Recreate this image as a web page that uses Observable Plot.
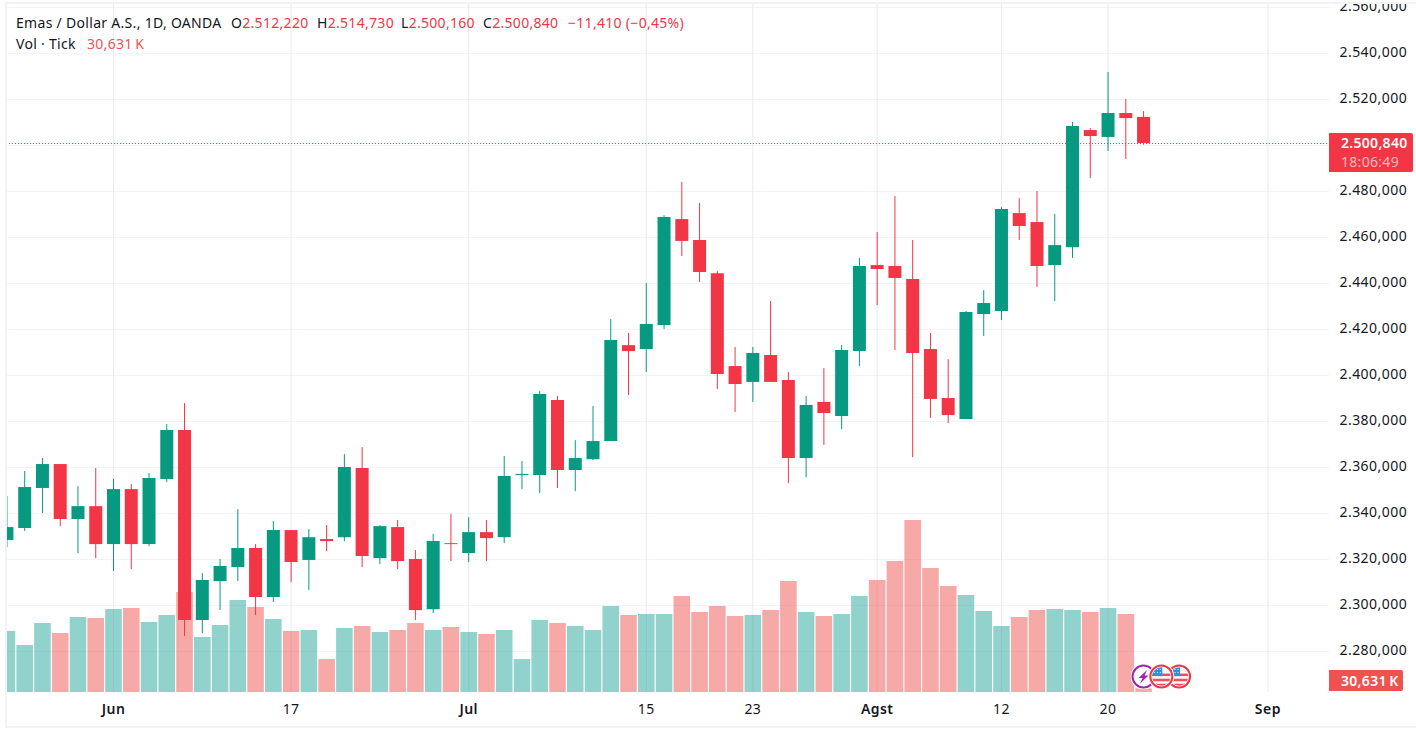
<!DOCTYPE html>
<html lang="id">
<head>
<meta charset="utf-8">
<script src="https://cdn.jsdelivr.net/npm/d3@7"></script>
<script src="https://cdn.jsdelivr.net/npm/@observablehq/plot@0.6"></script>
<style>
  html,body{margin:0;padding:0;background:#fff;width:1416px;height:731px;overflow:hidden;}
  body{position:relative;font-family:"Noto Sans",sans-serif;}
  #chart svg{display:block;clip-path:inset(4px 0 0 0);}
  .frame{position:absolute;background:#f0f3fa;}
  .legend{position:absolute;font-size:14px;line-height:18px;color:#131722;white-space:pre;letter-spacing:.3px;}
  .legend b{font-weight:400;color:#f23645;}
  .legend .vol{color:#ef5350;}
  .tag{position:absolute;color:#fff;font-size:14px;font-weight:600;box-sizing:border-box;letter-spacing:.3px;}
</style>
</head>
<body>
<div id="chart"></div>
<script>
// Trading-day offset relative to 3 June; the first visible candle is six sessions earlier.
const firstSession = -6;
const opens = [2328.3,2333.5,2350.9,2361.3,2337.4,2343.0,2326.5,2350.4,2326.5,2354.8,2376.1,2293.5,2310.4,2316.5,2324.8,2303.5,2332.6,2319.6,2328.7,2329.5,2359.6,2320.4,2333.9,2320.0,2298.2,2326.9,2322.6,2331.7,2329.5,2356.5,2356.5,2389.1,2358.7,2363.4,2371.3,2413.0,2411.3,2421.7,2467.8,2458.7,2444.3,2403.9,2397.0,2408.7,2397.8,2363.9,2388.3,2382.2,2410.4,2447.8,2447.4,2441.7,2411.3,2390.0,2380.9,2426.5,2427.8,2470.4,2466.5,2447.8,2455.6,2506.5,2503.5,2513.9,2512.22];
const highs = [2347.4,2358.3,2363.9,2361.3,2351.7,2359.6,2354.8,2352.6,2357.4,2378.7,2387.8,2313.9,2320.0,2341.7,2326.5,2336.5,2332.6,2333.0,2334.8,2365.6,2368.7,2334.8,2337.0,2323.9,2330.9,2339.6,2338.2,2337.0,2364.8,2362.6,2393.0,2390.9,2371.7,2386.5,2424.3,2418.3,2440.0,2469.5,2483.9,2474.8,2445.2,2412.2,2412.2,2432.2,2401.3,2390.9,2403.0,2413.0,2450.9,2462.2,2477.8,2458.7,2418.3,2406.9,2427.8,2436.9,2473.0,2476.9,2480.0,2470.0,2510.0,2507.4,2531.7,2520.0,2514.73];
const lows = [2325.2,2332.2,2340.0,2334.3,2322.6,2320.4,2314.8,2315.6,2325.6,2353.5,2286.5,2287.8,2297.8,2310.4,2295.6,2301.3,2310.0,2306.5,2323.5,2327.8,2316.5,2317.8,2315.6,2293.5,2296.5,2319.1,2318.7,2319.1,2326.9,2350.4,2348.7,2350.9,2349.5,2363.0,2371.3,2391.3,2401.3,2420.0,2451.7,2440.4,2393.9,2383.9,2388.3,2397.0,2353.0,2355.6,2369.6,2376.5,2403.9,2430.4,2410.9,2364.3,2381.3,2379.1,2380.9,2417.0,2423.9,2458.7,2438.3,2432.2,2450.9,2485.6,2497.4,2493.9,2500.16];
const closes = [2333.9,2351.3,2361.3,2337.4,2343.0,2326.5,2350.4,2326.5,2355.2,2376.1,2293.5,2310.9,2317.0,2324.8,2303.5,2332.6,2318.7,2329.5,2327.8,2360.0,2321.3,2334.3,2319.1,2297.8,2327.8,2326.5,2331.7,2329.1,2356.1,2357.0,2391.7,2358.7,2363.9,2371.3,2415.2,2410.4,2422.2,2468.7,2458.3,2444.8,2400.4,2396.1,2409.6,2397.0,2363.9,2387.0,2383.5,2410.9,2447.4,2446.1,2442.2,2409.6,2389.6,2382.6,2427.4,2431.3,2472.2,2464.8,2447.4,2456.5,2508.3,2503.9,2513.9,2511.7,2500.84];
const volumesK = [505,389,571,489,621,613,687,696,580,638,828,455,555,762,704,604,505,513,273,530,546,497,513,571,513,538,497,480,513,273,596,571,546,513,712,638,646,646,795,662,712,629,638,679,919,662,629,646,795,927,1085,1424,1027,878,803,671,546,621,679,687,679,662,696,646,30.631];

const priceTicks = [2280,2300,2320,2340,2360,2380,2400,2420,2440,2460,2480,2500,2520,2540,2560];
const monthTicks = [0,20,43,65];
const monthLabels = ["Jun","Jul","Agst","Sep"];
const dayTicks = [10,30,36,50,56];
const dayLabels = ["17","15","23","12","20"];
const eventSessions = [58,60,59];
const eventKinds = ["bolt","flag","flag"];

const lastClose = closes[closes.length-1];
const up = "#089981", down = "#f23645", volUp = "#26a69a", volDown = "#ef5350", gridColor = "#f0f3fa";

const sessions = opens.map((o,k)=>({
  i:k+firstSession, open:o, high:highs[k], low:lows[k], close:closes[k], vol:volumesK[k],
  rising:closes[k]>=o
}));

// The volume pane shares the price frame: it sits on the floor of the price domain.
const yDomain = [2262.2,2561.3];
const priceUnitsPerK = 0.0525;
const volTop = v => yDomain[0] + v*priceUnitsPerK;

const priceFormat = d3.formatLocale({decimal:",",thousands:".",grouping:[3]}).format(",.3f");

const badge = kind => {
  const svg = kind==="bolt"
    ? `<svg xmlns="http://www.w3.org/2000/svg" viewBox="0 0 26 26"><circle cx="13" cy="13" r="13" fill="#fff"/><circle cx="13" cy="13" r="11" fill="#fff" stroke="#9c27b0" stroke-width="2"/><path d="M16.5 6.5 L8 14.5 L12 14.5 L9.5 20 L18 12 L14 12 Z" fill="#9c27b0"/></svg>`
    : `<svg xmlns="http://www.w3.org/2000/svg" viewBox="0 0 26 26"><defs><clipPath id="c"><circle cx="13" cy="13" r="9.2"/></clipPath></defs><circle cx="13" cy="13" r="13" fill="#fff"/><circle cx="13" cy="13" r="11" fill="#fff" stroke="#f23645" stroke-width="2"/><g clip-path="url(#c)"><rect x="3" y="10" width="20" height="2.6" fill="#f0525d"/><rect x="3" y="15.2" width="20" height="2.6" fill="#f0525d"/><rect x="3" y="20.2" width="20" height="3" fill="#f0525d"/><rect x="3" y="3" width="11" height="9.6" fill="#2e8ee8"/><g fill="#fff"><circle cx="6" cy="6" r=".6"/><circle cx="9" cy="6" r=".6"/><circle cx="12" cy="6" r=".6"/><circle cx="6" cy="9" r=".6"/><circle cx="9" cy="9" r=".6"/><circle cx="12" cy="9" r=".6"/></g></g></svg>`;
  return "data:image/svg+xml;utf8," + encodeURIComponent(svg);
};

const chart = Plot.plot({
  width:1416, height:731,
  marginLeft:6, marginRight:87, marginTop:4, marginBottom:39,
  style:{fontFamily:'"Noto Sans",sans-serif', background:"#fff", color:"#131722", letterSpacing:"0.45px"},
  x:{type:"linear", domain:[-6.025,68.47]},
  y:{type:"linear", domain:yDomain},
  color:{type:"identity"},
  marks:[
    Plot.gridY(priceTicks,{stroke:gridColor, strokeOpacity:1}),
    Plot.gridX(monthTicks.concat(dayTicks),{stroke:gridColor, strokeOpacity:1}),
    Plot.ruleX(sessions,{x:"i", y1:yDomain[0], y2:d=>volTop(d.vol), stroke:d=>d.rising?volUp:volDown, strokeOpacity:0.5, strokeWidth:16.6, clip:"frame"}),
    Plot.gridX(monthTicks.concat(dayTicks),{stroke:"#7f8c8d", strokeOpacity:0.08}),
    Plot.ruleY([lastClose],{stroke:down, strokeDasharray:"1,2"}),
    Plot.ruleX(sessions,{x:"i", y1:"low", y2:"high", stroke:d=>d.rising?up:down, strokeWidth:1, clip:"frame"}),
    Plot.ruleX(sessions,{x:"i", y1:"open", y2:"close", stroke:d=>d.rising?up:down, strokeWidth:13, clip:"frame"}),
    Plot.image(eventSessions.map((s,k)=>({s,kind:eventKinds[k]})),{x:"s", y:yDomain[0], dy:-16, src:d=>badge(d.kind), width:26, height:26}),
    Plot.axisY(priceTicks,{anchor:"right", tickSize:0, tickPadding:10, textAnchor:"start", dy:-0.6, tickFormat:priceFormat, fontSize:14, fill:"#131722", label:null}),
    Plot.axisX(dayTicks,{anchor:"bottom", tickSize:0, tickPadding:12, tickFormat:i=>dayLabels[dayTicks.indexOf(i)], fontSize:14, fill:"#131722", label:null}),
    Plot.axisX(monthTicks,{anchor:"bottom", tickSize:0, tickPadding:12, tickFormat:i=>monthLabels[monthTicks.indexOf(i)], fontSize:14, fontWeight:600, fill:"#131722", label:null})
  ]
});
document.getElementById("chart").appendChild(chart);

// Frame lines of the chart pane
const addDiv = (cls,css,html="") => {
  const el=document.createElement("div"); el.className=cls; el.style.cssText=css; el.innerHTML=html;
  document.body.appendChild(el); return el;
};
addDiv("frame","left:5px;top:2px;right:0;height:2px;");
addDiv("frame","left:5px;top:2px;width:1.5px;height:726px;");
addDiv("frame","left:5px;top:726px;right:0;height:2px;");

// Legend
addDiv("legend","left:16px;top:14px;","Emas / Dollar A.S., 1D, OANDA");
addDiv("legend","left:231px;top:14px;","O<b>2.512,220</b>");
addDiv("legend","left:317px;top:14px;","H<b>2.514,730</b>");
addDiv("legend","left:401px;top:14px;","L<b>2.500,160</b>");
addDiv("legend","left:483px;top:14px;","C<b>2.500,840</b>");
addDiv("legend","left:568px;top:14px;","<b>\u221211,410 (\u22120,45%)</b>");
addDiv("legend","left:16px;top:35px;","Vol \u00b7 Tick");
addDiv("legend","left:87px;top:35px;","<span class='vol'>30,631\u2009K</span>");

// Last-value tags, anchored on the scale
const yScale = chart.scale("y");
const closeY = yScale.apply(lastClose);
addDiv("tag",`left:1329px;top:${closeY-10}px;width:84px;height:39px;background:${down};border-radius:0 2px 2px 0;padding:0 0 0 12px;line-height:19px;`,
  `<div>2.500,840</div><div style="font-weight:400;color:rgba(255,255,255,.65)">18:06:49</div>`);
addDiv("tag",`left:1329px;top:670px;width:74px;height:21px;background:${volDown};border-radius:0 2px 2px 0;padding-left:12px;line-height:21px;`,"30,631\u2009K");
</script>
</body>
</html>
